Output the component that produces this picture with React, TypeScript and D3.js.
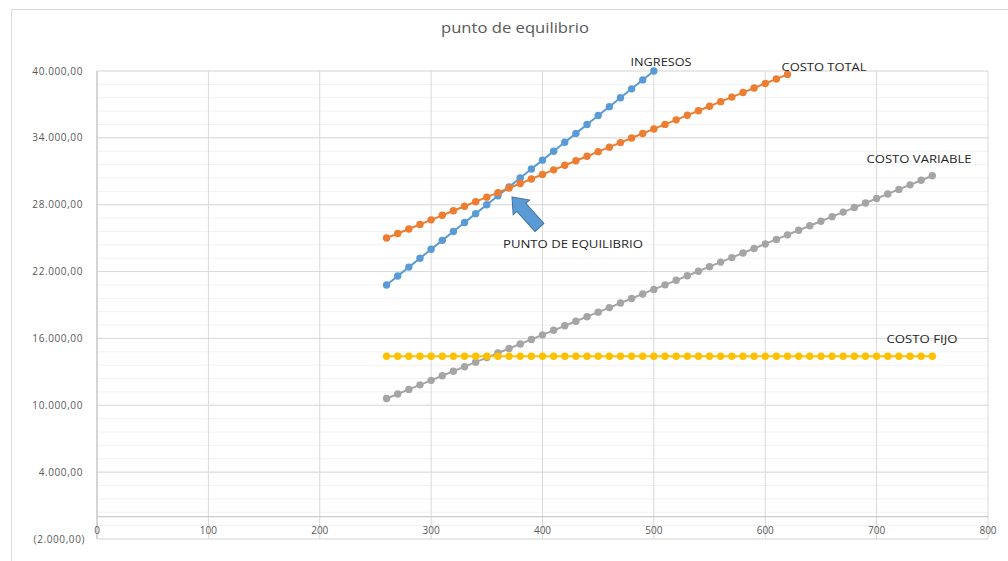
import React from 'react';
import * as d3 from 'd3';

// unidades (eje x)
const unidades = [
  260, 270, 280, 290, 300, 310, 320, 330, 340, 350, 360, 370, 380, 390, 400, 410, 420, 430, 440, 450,
  460, 470, 480, 490, 500, 510, 520, 530, 540, 550, 560, 570, 580, 590, 600, 610, 620, 630, 640, 650,
  660, 670, 680, 690, 700, 710, 720, 730, 740, 750,
];

const ingresos = [
  20800, 21600, 22400, 23200, 24000, 24800, 25600, 26400, 27200, 28000, 28800, 29600, 30400, 31200,
  32000, 32800, 33600, 34400, 35200, 36000, 36800, 37600, 38400, 39200, 40000,
];

const costoTotal = [
  25008, 25416, 25824, 26232, 26640, 27048, 27456, 27864, 28272, 28680, 29088, 29496, 29904, 30312,
  30720, 31128, 31536, 31944, 32352, 32760, 33168, 33576, 33984, 34392, 34800, 35208, 35616, 36024,
  36432, 36840, 37248, 37656, 38064, 38472, 38880, 39288, 39696,
];

const costoVariable = [
  10608, 11016, 11424, 11832, 12240, 12648, 13056, 13464, 13872, 14280, 14688, 15096, 15504, 15912,
  16320, 16728, 17136, 17544, 17952, 18360, 18768, 19176, 19584, 19992, 20400, 20808, 21216, 21624,
  22032, 22440, 22848, 23256, 23664, 24072, 24480, 24888, 25296, 25704, 26112, 26520, 26928, 27336,
  27744, 28152, 28560, 28968, 29376, 29784, 30192, 30600,
];

const costoFijo = [
  14400, 14400, 14400, 14400, 14400, 14400, 14400, 14400, 14400, 14400, 14400, 14400, 14400, 14400,
  14400, 14400, 14400, 14400, 14400, 14400, 14400, 14400, 14400, 14400, 14400, 14400, 14400, 14400,
  14400, 14400, 14400, 14400, 14400, 14400, 14400, 14400, 14400, 14400, 14400, 14400, 14400, 14400,
  14400, 14400, 14400, 14400, 14400, 14400, 14400, 14400,
];

const xTicks = [0, 100, 200, 300, 400, 500, 600, 700, 800];
const yTicks = [-2000, 4000, 10000, 16000, 22000, 28000, 34000, 40000];

const W = 1008;
const H = 561;
const font = "'Open Sans', 'Noto Sans', sans-serif";

const locale = d3.formatLocale({ decimal: ',', thousands: '.', grouping: [3], currency: ['', ''] });
const fmt = locale.format(',.2f');
const fmtY = (v: number) => (v < 0 ? `(${fmt(-v)})` : fmt(v));

const x = d3.scaleLinear().domain([0, 800]).range([97, 988]);
const y = d3.scaleLinear().domain([-2000, 40000]).range([539, 71]);

const series = [
  { name: 'INGRESOS', values: ingresos, color: '#5B9BD5' },
  { name: 'COSTO TOTAL', values: costoTotal, color: '#ED7D31' },
  { name: 'COSTO VARIABLE', values: costoVariable, color: '#A5A5A5' },
  { name: 'COSTO FIJO', values: costoFijo, color: '#FFC000' },
];

// etiquetas de texto: [texto, centro x, centro y, ancho]
const labels: [string, number, number, number][] = [
  ['INGRESOS', 661, 62, 61],
  ['COSTO TOTAL', 824, 67, 85],
  ['COSTO VARIABLE', 919, 159, 105],
  ['COSTO FIJO', 922, 339, 71],
  ['PUNTO DE EQUILIBRIO', 573, 244, 140],
];

const line = d3
  .line<[number, number]>()
  .x((d) => x(d[0]))
  .y((d) => y(d[1]));

export default function App() {
  const minor = d3.range(-2000, 40001, 1200);

  return (
    <svg
      width={W}
      height={H}
      style={{ position: 'absolute', left: 0, top: 0, background: '#fff' }}
      fontFamily={font}
    >
      {/* chart border */}
      <path d={`M11.5,${H} V9.5 H${W}`} fill="none" stroke="#D9D9D9" strokeWidth={1} />

      <text
        x={515}
        y={28}
        dy="0.35em"
        textAnchor="middle"
        fontSize={14}
        fill="#595959"
        textLength={148}
        lengthAdjust="spacingAndGlyphs"
      >
        punto de equilibrio
      </text>

      {/* minor grid */}
      {minor.map((v) => (
        <line key={'m' + v} x1={x(0)} x2={x(800)} y1={y(v)} y2={y(v)} stroke="#F2F2F2" />
      ))}
      {/* major grid */}
      {yTicks.map((v) => (
        <line key={'y' + v} x1={x(0)} x2={x(800)} y1={y(v)} y2={y(v)} stroke="#D9D9D9" />
      ))}
      {xTicks.map((v) => (
        <line key={'x' + v} x1={x(v)} x2={x(v)} y1={y(40000)} y2={y(-2000)} stroke="#D9D9D9" />
      ))}
      {/* axes */}
      <line x1={x(0)} x2={x(800)} y1={y(0)} y2={y(0)} stroke="#BFBFBF" />
      <line x1={x(0)} x2={x(0)} y1={y(40000)} y2={y(-2000)} stroke="#BFBFBF" />

      {yTicks.map((v) => (
        <text
          key={'yl' + v}
          x={v < 0 ? 85 : 83}
          y={y(v)}
          dy="0.35em"
          textAnchor="end"
          fontSize={10}
          letterSpacing={0.6}
          fill="#595959"
        >
          {fmtY(v)}
        </text>
      ))}
      {xTicks.map((v) => (
        <text key={'xl' + v} x={x(v)} y={y(0) + 17} textAnchor="middle" fontSize={10} fill="#595959">
          {v}
        </text>
      ))}

      {series.map((s) => {
        const pts: [number, number][] = s.values.map((v, i) => [unidades[i], v]);
        return (
          <g key={s.name}>
            <path d={line(pts) || ''} fill="none" stroke={s.color} strokeWidth={2} />
            {pts.map((p, i) => (
              <circle key={i} cx={x(p[0])} cy={y(p[1])} r={3.7} fill={s.color} />
            ))}
          </g>
        );
      })}

      {/* labels */}
      <g fontSize={11} fill="#262626">
        {labels.map(([t, cx, cy, w]) => (
          <text
            key={t}
            x={cx}
            y={cy}
            dy="0.35em"
            textAnchor="middle"
            textLength={w}
            lengthAdjust="spacingAndGlyphs"
          >
            {t}
          </text>
        ))}
      </g>

      {/* arrow */}
      <g transform="translate(512,197) rotate(48)">
        <polygon
          points="0,0 14,-11 14,-6 41,-6 41,6 14,6 14,11"
          fill="#5B9BD5"
          stroke="#41719C"
          strokeWidth={1}
        />
      </g>
    </svg>
  );
}
